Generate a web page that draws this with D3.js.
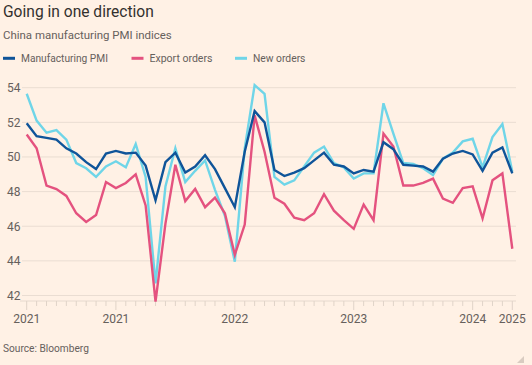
<!DOCTYPE html>
<html><head><meta charset="utf-8">
<script src="https://cdn.jsdelivr.net/npm/d3@7"></script>
<style>
html,body{margin:0;padding:0;background:#FFF1E5;}
svg{display:block;font-family:Roboto,"Liberation Sans",Arial,sans-serif;}
</style></head><body>
<svg id="c" width="532" height="365"></svg>
<script>
// ---- data ----
const monthIndex = d3.range(50);
const manufacturingPMI = [51.95,51.2,51.1,51.0,50.5,50.2,49.7,49.3,50.2,50.35,
  50.2,50.25,49.5,47.5,49.7,50.25,49.1,49.45,50.1,49.3,
  48.2,47.1,50.3,52.65,52.0,49.25,48.9,49.1,49.35,49.8,
  50.25,49.55,49.45,49.05,49.25,49.15,50.85,50.45,49.55,49.5,
  49.45,49.15,49.9,50.2,50.35,50.15,49.2,50.25,50.55,49.05];
const exportOrders = [51.3,50.5,48.35,48.15,47.75,46.75,46.25,46.65,48.55,48.2,
  48.5,49.0,47.2,41.65,46.15,49.55,47.45,48.15,47.1,47.65,
  46.75,44.35,46.1,52.4,50.3,47.65,47.3,46.5,46.35,46.75,
  47.85,46.9,46.35,45.85,47.25,46.35,51.35,50.6,48.35,48.35,
  48.5,48.75,47.6,47.35,48.2,48.3,46.45,48.65,49.05,44.7];
const newOrders = [53.65,52.1,51.4,51.55,51.0,49.65,49.35,48.85,49.45,49.75,
  49.4,50.75,48.85,42.7,48.3,50.5,48.55,49.2,49.8,48.1,
  46.6,43.95,50.5,54.15,53.65,48.85,48.4,48.65,49.45,50.25,
  50.6,49.65,49.4,48.75,49.05,49.05,53.1,51.35,49.65,49.6,
  49.35,48.95,49.9,50.25,50.9,51.05,49.4,51.15,51.9,49.15];
const yTicks = [42,44,46,48,50,52,54];
const xTickIndex = [0,9,21,33,45,49];
const xTickLabels = ["2021","2021","2022","2023","2024","2025"];
const seriesNames = ["Manufacturing PMI","Export orders","New orders"];

// ---- drawing ----
const svg = d3.select("#c");
const colors = {"Manufacturing PMI":"#0F5499","Export orders":"#E4527F","New orders":"#6FD5E8"};
const x = d3.scaleLinear().domain([0,49]).range([26.7,512.3]);
const y = d3.scaleLinear().domain([42,54]).range([295.5,87.7]);

function fit(sel, w){ const n = sel.node(); const l = n.getComputedTextLength(); if(l>0){ const fs = +sel.attr("font-size"); sel.attr("font-size", fs*w/l); } return sel; }

fit(svg.append("text").attr("x",3).attr("y",16.5).attr("font-size",16.5).attr("fill","#33302E").text("Going in one direction"),151);
fit(svg.append("text").attr("x",3).attr("y",38.5).attr("font-size",12).attr("fill","#66605C").text("China manufacturing PMI indices"),169);

// legend
const legX = [3,131.5,235];
const legW = [87,63,52.5];
seriesNames.forEach((n,i)=>{
  const g = svg.append("g").attr("transform",`translate(${legX[i]},58.3)`);
  g.append("line").attr("x1",0).attr("x2",12).attr("y1",0).attr("y2",0).attr("stroke",colors[n]).attr("stroke-width",3);
  fit(g.append("text").attr("x",18).attr("y",4).attr("font-size",11.5).attr("fill","#66605C").text(n),legW[i]);
});

// grid
svg.append("g").selectAll("line").data(yTicks).join("line")
  .attr("x1",22).attr("x2",516).attr("y1",d=>y(d)).attr("y2",d=>y(d))
  .attr("stroke","#EADDD2").attr("stroke-width",1);
svg.append("g").selectAll("text").data(yTicks).join("text")
  .attr("x",7).attr("y",d=>y(d)+4.3).attr("font-size",12).attr("fill","#66605C").text(d=>d);

// x axis
const axisY = 301;
svg.append("line").attr("x1",20).attr("x2",516).attr("y1",axisY).attr("y2",axisY).attr("stroke","#E6D9CE");
svg.append("g").selectAll("line").data(monthIndex).join("line")
  .attr("x1",d=>x(d)).attr("x2",d=>x(d)).attr("y1",axisY)
  .attr("y2",d=>axisY + (xTickIndex.includes(d)?9:5))
  .attr("stroke","#E0D3C8").attr("stroke-width",1);
svg.append("g").selectAll("text").data(xTickIndex).join("text")
  .attr("x",d=>x(d)).attr("y",323.3).attr("text-anchor","middle").attr("font-size",12).attr("fill","#66605C")
  .text((d,i)=>xTickLabels[i]);

// lines
const line = d3.line().x((d,i)=>x(monthIndex[i])).y(d=>y(d));
[["New orders",newOrders],["Export orders",exportOrders],["Manufacturing PMI",manufacturingPMI]].forEach(([n,vals])=>{
  svg.append("path").datum(vals).attr("d",line).attr("fill","none")
    .attr("stroke",colors[n]).attr("stroke-width",2.4).attr("stroke-linejoin","miter");
});

fit(svg.append("text").attr("x",3).attr("y",351.5).attr("font-size",11.5).attr("fill","#66605C").text("Source: Bloomberg"),86);

// corner mark
svg.append("path").attr("d","M524,356 L524,363 L517,363 Z").attr("fill","#D9CCC1");
</script></body></html>
